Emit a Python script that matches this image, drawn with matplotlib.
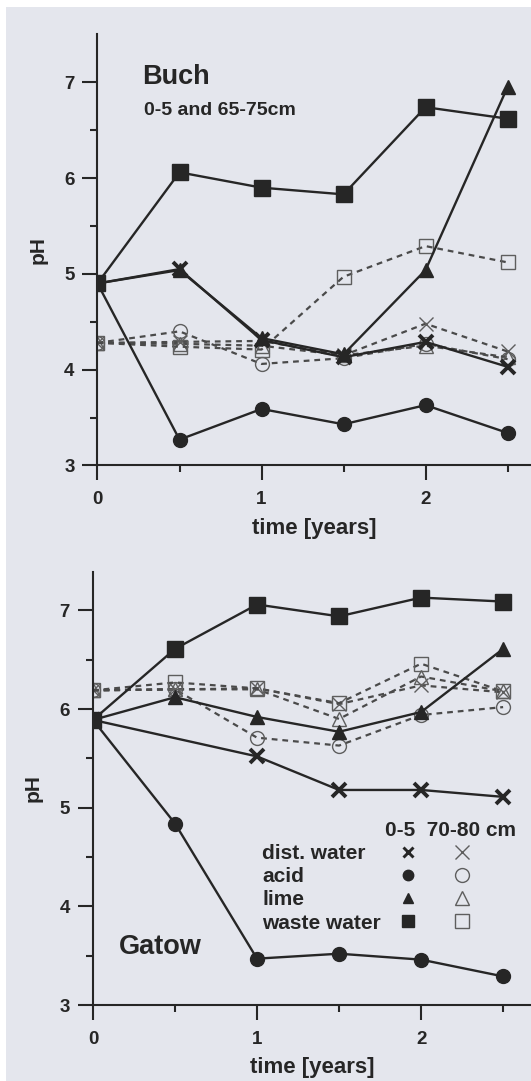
import numpy as np
import matplotlib
matplotlib.use("Agg")
import matplotlib.pyplot as plt
from matplotlib.lines import Line2D
from matplotlib.patches import Rectangle
from matplotlib.legend_handler import HandlerTuple
from matplotlib.font_manager import FontProperties

# ---------------- data ----------------
time_years = [0, 0.5, 1, 1.5, 2, 2.5]
treatments = ["dist. water", "acid", "lime", "waste water"]
x_ticks = [0, 1, 2]
y_ticks = [3, 4, 5, 6, 7]

# Buch, 0-5 cm (filled markers, solid lines)
buch_top_dist = [4.90, 5.05, 4.31, 4.13, 4.29, 4.03]
buch_top_acid = [4.90, 3.27, 3.59, 3.43, 3.63, 3.34]
buch_top_lime = [4.90, 5.04, 4.33, 4.16, 5.04, 6.95]
buch_top_waste = [4.90, 6.06, 5.90, 5.83, 6.74, 6.62]
# Buch, 65-75 cm (open markers, dashed lines)
buch_deep_dist = [4.28, 4.29, 4.30, 4.15, 4.48, 4.19]
buch_deep_acid = [4.28, 4.40, 4.06, 4.12, 4.27, 4.11]
buch_deep_lime = [4.28, 4.27, 4.25, 4.15, 4.25, 4.13]
buch_deep_waste = [4.28, 4.24, 4.21, 4.97, 5.29, 5.12]

# Gatow, 0-5 cm
gatow_top_dist = [5.89, None, 5.52, 5.18, 5.18, 5.11]
gatow_top_acid = [5.89, 4.84, 3.47, 3.52, 3.46, 3.29]
gatow_top_lime = [5.89, 6.12, 5.92, 5.77, 5.97, 6.61]
gatow_top_waste = [5.89, 6.61, 7.06, 6.94, 7.13, 7.09]
# Gatow, 70-80 cm
gatow_deep_dist = [6.19, 6.20, 6.21, 6.05, 6.24, 6.17]
gatow_deep_acid = [6.19, 6.20, 5.71, 5.63, 5.94, 6.02]
gatow_deep_lime = [6.19, 6.20, 6.20, 5.90, 6.33, 6.18]
gatow_deep_waste = [6.19, 6.27, 6.21, 6.06, 6.46, 6.18]

# ---------------- style ----------------
BG = "#e4e6ed"
INK = "#262626"
DASH = "#4a4a4a"
GREY = "#5e5e5e"
FONT = "Liberation Sans"
plt.rcParams["font.family"] = [FONT, "DejaVu Sans"]
plt.rcParams["font.weight"] = "bold"

markers = {"dist. water": "x", "acid": "o", "lime": "^", "waste water": "s"}
filled_size = {"x": 10, "o": 10, "^": 10, "s": 11}
open_size = {"x": 10, "o": 10, "^": 9.5, "s": 10}


def filled_kw(m, scale=1.0):
    kw = dict(marker=m, markersize=filled_size[m] * scale, color=INK,
              markerfacecolor=INK, markeredgecolor=INK)
    kw["markeredgewidth"] = 2.8 * scale if m == "x" else 1.0
    return kw


def open_kw(m, scale=1.0, line_color=GREY):
    return dict(marker=m, markersize=open_size[m] * scale, color=line_color,
                markerfacecolor="none", markeredgecolor=GREY,
                markeredgewidth=1.0)


def plot_series(ax, ys, m, deep):
    xs = np.array([x for x, y in zip(time_years, ys) if y is not None])
    yv = np.array([y for y in ys if y is not None])
    if deep:
        ax.plot(xs, yv, linestyle=(0, (2.6, 2.2)), linewidth=1.6, zorder=2,
                **open_kw(m, line_color=DASH))
    else:
        ax.plot(xs, yv, linestyle="-", linewidth=1.7, zorder=3,
                **filled_kw(m))


def style_axes(ax, ylim_top, xlim_right):
    ax.set_facecolor("none")
    ax.set_xlim(0, xlim_right)
    ax.set_ylim(3, ylim_top)
    for s in ("top", "right"):
        ax.spines[s].set_visible(False)
    for s in ("left", "bottom"):
        ax.spines[s].set_color(INK)
        ax.spines[s].set_linewidth(1.5)
    ax.set_xticks(x_ticks)
    ax.set_xticks([0.5, 1.5, 2.5], minor=True)
    ax.set_yticks(y_ticks)
    ax.set_yticks([3.5, 4.5, 5.5, 6.5], minor=True)
    ax.tick_params(axis="both", which="major", length=10.5, width=1.5,
                   color=INK, labelcolor=INK, labelsize=13.5)
    ax.tick_params(axis="both", which="minor", length=5, width=1.5, color=INK)
    ax.tick_params(axis="x", which="major", pad=8)
    ax.tick_params(axis="y", which="major", pad=6)
    for lab in ax.get_xticklabels() + ax.get_yticklabels():
        lab.set_fontweight("bold")
    ax.set_xlabel("time [years]", fontsize=16, fontweight="bold", color=INK,
                  labelpad=7)
    ax.set_ylabel("pH", fontsize=15, fontweight="bold", color=INK,
                  labelpad=12)


fig = plt.figure(figsize=(5.31, 10.81), dpi=100, facecolor="white")
fig.patches.append(Rectangle((6 / 531, 0), 1, 1 - 7 / 1081,
                             transform=fig.transFigure, facecolor=BG,
                             edgecolor="none", zorder=-10))

# ---------------- Buch ----------------
ax1 = fig.add_axes([0.1836, 0.5694, 1 - 0.1836, 0.3988])
for name, ys in zip(treatments, [buch_deep_dist, buch_deep_acid,
                                 buch_deep_lime, buch_deep_waste]):
    plot_series(ax1, ys, markers[name], deep=True)
for name, ys in zip(treatments, [buch_top_dist, buch_top_acid,
                                 buch_top_lime, buch_top_waste]):
    plot_series(ax1, ys, markers[name], deep=False)
style_axes(ax1, 7.5, 2.643)
ax1.text(0.103, 0.885, "Buch", transform=ax1.transAxes, fontsize=19.5,
         fontweight="bold", color=INK, ha="left", va="baseline")
ax1.text(0.107, 0.814, "0-5 and 65-75cm", transform=ax1.transAxes,
         fontsize=14, fontweight="bold", color=INK, ha="left", va="baseline")

# ---------------- Gatow ----------------
ax2 = fig.add_axes([0.1751, 0.0703, 1 - 0.1751, 0.4006])
for name, ys in zip(treatments, [gatow_deep_dist, gatow_deep_acid,
                                 gatow_deep_lime, gatow_deep_waste]):
    plot_series(ax2, ys, markers[name], deep=True)
for name, ys in zip(treatments, [gatow_top_dist, gatow_top_acid,
                                 gatow_top_lime, gatow_top_waste]):
    plot_series(ax2, ys, markers[name], deep=False)
style_axes(ax2, 7.39, 2.67)
ax2.text(0.058, 0.118, "Gatow", transform=ax2.transAxes, fontsize=19.5,
         fontweight="bold", color=INK, ha="left", va="baseline")

# legend: labels column + marker pairs column
fp = FontProperties(family=FONT, weight="bold", size=15)
text_handles = [Line2D([], [], linestyle="none") for _ in treatments]
leg1 = ax2.legend(text_handles, treatments, loc="upper left",
                  bbox_to_anchor=(0.386, 0.425), frameon=False,
                  handlelength=0, handletextpad=0, borderpad=0,
                  borderaxespad=0, labelspacing=0.2, title=" ", prop=fp,
                  title_fontproperties=fp, alignment="left", labelcolor=INK)
ax2.add_artist(leg1)

pair_handles = [(Line2D([], [], linestyle="none", **filled_kw(markers[n], 0.75)),
                 Line2D([], [], linestyle="none", **open_kw(markers[n], 1.0)))
                for n in treatments]
leg2 = ax2.legend(pair_handles, [""] * len(treatments), loc="upper left",
                  bbox_to_anchor=(0.667, 0.425), frameon=False,
                  handlelength=4.8, handletextpad=0, borderpad=0,
                  borderaxespad=0, labelspacing=0.2, title="0-5  70-80 cm",
                  prop=fp, title_fontproperties=fp, alignment="left",
                  numpoints=1,
                  handler_map={tuple: HandlerTuple(ndivide=None, pad=0.384)})
leg2.get_title().set_color(INK)

fig.savefig("out.png", dpi=100, facecolor=fig.get_facecolor())
